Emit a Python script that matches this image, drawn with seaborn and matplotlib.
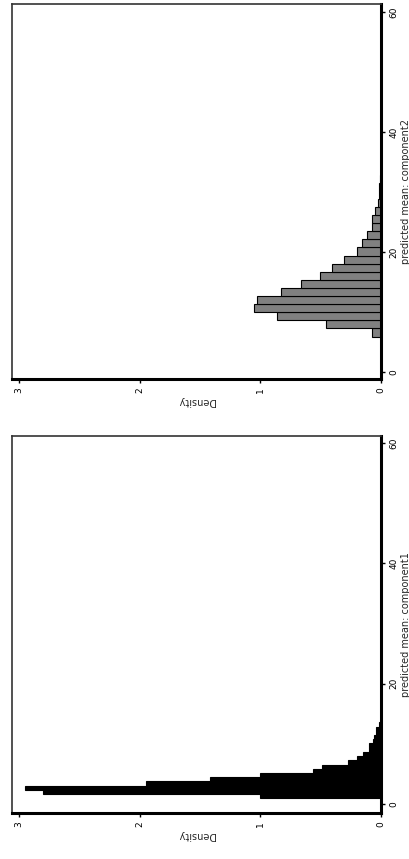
import numpy as np
import pandas as pd
import seaborn as sns
import matplotlib.pyplot as plt

# component2 histogram (bin edges along "predicted mean", density per bin)
edges_c2 = [5.9, 7.25, 8.6, 9.95, 11.3, 12.65, 14.0, 15.35, 16.7, 18.05, 19.4,
            20.75, 22.1, 23.45, 24.8, 26.15, 27.5, 28.85, 30.2, 31.55, 32.9]
dens_c2 = [0.077, 0.46, 0.86, 1.05, 1.03, 0.83, 0.66, 0.51, 0.41, 0.31,
           0.20, 0.16, 0.116, 0.074, 0.074, 0.05, 0.025, 0.02, 0.015, 0.01]

# component1 histogram
edges_c1 = [0.95, 1.65, 2.35, 3.05, 3.75, 4.45, 5.15, 5.85, 6.55, 7.25, 7.95,
            8.65, 9.35, 10.05, 10.75, 11.45, 12.15, 12.85, 13.55]
dens_c1 = [1.0, 2.8, 2.95, 1.95, 1.42, 1.0, 0.56, 0.49, 0.27, 0.20,
           0.15, 0.10, 0.10, 0.07, 0.06, 0.04, 0.04, 0.02]

xticks_mean = [0, 20, 40, 60]
yticks_dens = [0, 1, 2, 3]

sns.set_style("white")
plt.rcParams['font.family'] = ['DejaVu Sans']

fig = plt.figure(figsize=(4.1, 8.59), dpi=100)

panels = [
    (edges_c2, dens_c2, "#808080", "predicted mean: component2", [0.0293, 0.5588, 0.9000, 0.4365], (-1.17, 61.33)),
    (edges_c1, dens_c1, "black", "predicted mean: component1", [0.0293, 0.0536, 0.9000, 0.4388], (-1.5, 61.16)),
]

for edges, dens, col, lab, pos, ylim in panels:
    ax = fig.add_axes(pos)
    centers = [(a + b) / 2 for a, b in zip(edges[:-1], edges[1:])]
    df = pd.DataFrame({"mean": centers, "density": dens})
    sns.histplot(data=df, y="mean", weights="density", bins=edges, stat="count",
                 color=col, alpha=1, edgecolor="black", linewidth=0.8, ax=ax)
    ax.set_xlim(3.06, 0)
    ax.set_ylim(*ylim)

    ax.yaxis.tick_right()
    ax.yaxis.set_label_position("right")
    ax.set_yticks(xticks_mean)
    ax.set_yticklabels([str(v) for v in xticks_mean], rotation=90, va="center")
    ax.set_xticks(yticks_dens)
    ax.set_xticklabels([str(v) for v in yticks_dens], rotation=90, ha="center")
    ax.tick_params(axis="both", direction="out", length=3, width=1, labelsize=6.5,
                   colors="black", pad=3)
    ax.tick_params(axis="y", right=True, left=False)
    ax.tick_params(axis="x", bottom=True)

    ax.set_ylabel(lab, fontsize=7, rotation=90, labelpad=2)
    ax.set_xlabel("Density", fontsize=7, rotation=180, labelpad=2)

    for s in ["right", "bottom"]:
        ax.spines[s].set_linewidth(2.2)
        ax.spines[s].set_color("black")
    for s in ["top", "left"]:
        ax.spines[s].set_linewidth(1.2)
        ax.spines[s].set_color("#333333")
    ax.grid(False)

fig.savefig("out.png", dpi=100, facecolor="white")
